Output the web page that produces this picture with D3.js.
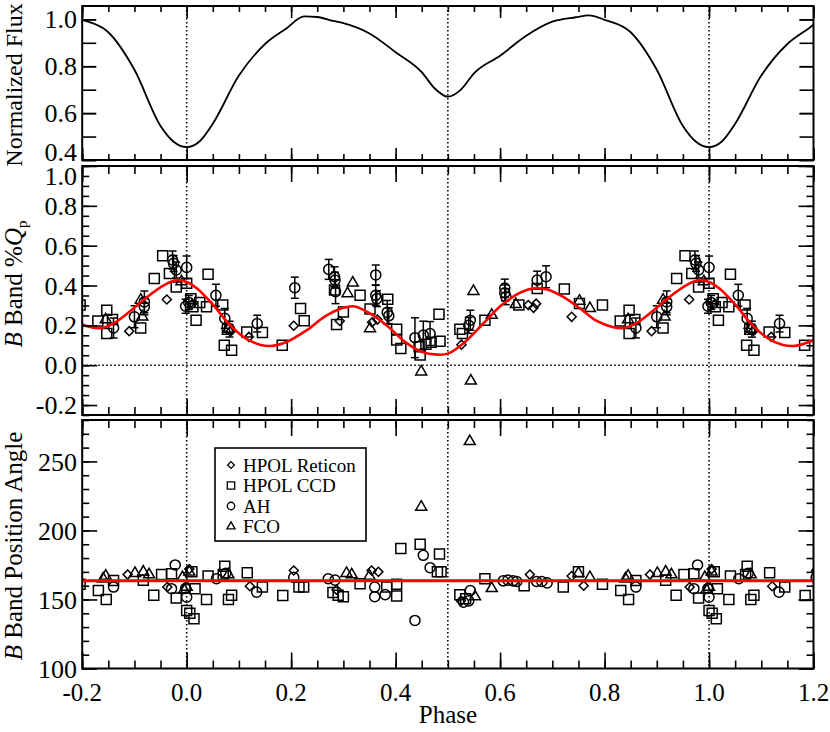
<!DOCTYPE html>
<html lang="en">
<head>
<meta charset="UTF-8">
<title>B band polarization vs phase</title>
<script src="https://cdnjs.cloudflare.com/ajax/libs/d3/7.8.5/d3.min.js"></script>
<style>
  body { margin: 0; background: #fff; }
  svg { display: block; font-family: "Liberation Serif", "Times New Roman", serif; }
</style>
</head>
<body>
<svg id="chart"></svg>
<script>
// ---- data (one period, phase 0..1; the plot repeats it from -0.2 to 1.2) ----
var fluxPhase = [0, 0.025, 0.05, 0.10, 0.15, 0.19, 0.225, 0.25, 0.28, 0.30, 0.35, 0.40, 0.45, 0.475, 0.50,
  0.525, 0.55, 0.60, 0.65, 0.70, 0.745, 0.77, 0.80, 0.85, 0.90, 0.95, 0.975]
var fluxValue = [0.455, 0.48, 0.555, 0.76, 0.895, 0.96, 1.013, 1.01, 0.994, 0.984, 0.94, 0.86, 0.775, 0.705, 0.67,
  0.70, 0.77, 0.845, 0.93, 0.99, 1.009, 1.017, 0.998, 0.945, 0.785, 0.545, 0.478]

var qFitPhase = [0, 0.02, 0.05, 0.08, 0.11, 0.14, 0.165, 0.19, 0.23, 0.265, 0.30, 0.322, 0.354, 0.386,
  0.418, 0.45, 0.48, 0.50, 0.533, 0.571, 0.603, 0.64, 0.667, 0.69, 0.72, 0.753, 0.785, 0.815, 0.836,
  0.862, 0.894, 0.925, 0.957, 0.98]
var qFitValue = [0.418, 0.385, 0.305, 0.21, 0.14, 0.103, 0.097, 0.115, 0.176, 0.245, 0.288, 0.295, 0.255, 0.193,
  0.117, 0.067, 0.053, 0.058, 0.117, 0.218, 0.302, 0.366, 0.386, 0.38, 0.344, 0.285, 0.222, 0.192, 0.187,
  0.213, 0.276, 0.344, 0.402, 0.427]

var paFit = 163.5

// [phase, %Q]
var reticonQ = [[0.01, 0.306], [0.085, 0.172], [0.119, 0.142], [0.205, 0.198], [0.293, 0.222], [0.355, 0.215],
  [0.365, 0.229], [0.526, 0.103], [0.654, 0.302], [0.664, 0.288], [0.669, 0.309], [0.737, 0.243], [0.89, 0.171],
  [0.962, 0.33]]
var ccdQ = [[0.0, 0.411], [0.008, 0.334], [0.012, 0.293], [0.018, 0.226], [0.025, 0.315], [0.038, 0.293],
  [0.041, 0.456], [0.069, 0.302], [0.072, 0.1], [0.078, 0.181], [0.086, 0.075], [0.115, 0.167], [0.145, 0.164],
  [0.183, 0.1], [0.218, 0.285], [0.225, 0.223], [0.283, 0.377], [0.287, 0.204], [0.3, 0.267], [0.332, 0.351],
  [0.351, 0.282], [0.385, 0.331], [0.402, 0.18], [0.402, 0.126], [0.41, 0.084], [0.445, 0.092], [0.447, 0.051],
  [0.458, 0.105], [0.468, 0.115], [0.485, 0.12], [0.483, 0.256], [0.523, 0.18], [0.528, 0.159], [0.571, 0.226],
  [0.636, 0.302], [0.671, 0.385], [0.723, 0.382], [0.752, 0.31], [0.796, 0.302], [0.83, 0.222], [0.847, 0.276],
  [0.847, 0.159], [0.858, 0.229], [0.912, 0.187], [0.938, 0.435], [0.954, 0.549], [0.967, 0.46], [0.98, 0.393]]
// [phase, %Q, error]
var ahQ = [[0.0, 0.491, 0.057], [0.004, 0.315, 0.035], [0.056, 0.351, 0.055], [0.073, 0.235, 0.05],
  [0.082, 0.181, 0.04], [0.135, 0.209, 0.042], [0.207, 0.389, 0.053], [0.272, 0.481, 0.05], [0.283, 0.444, 0.05],
  [0.284, 0.427, 0.04], [0.285, 0.369, 0.06], [0.362, 0.453, 0.05], [0.362, 0.351, 0.05], [0.364, 0.334, 0.04],
  [0.384, 0.265, 0.06], [0.387, 0.248, 0.04], [0.437, 0.138, 0.1], [0.453, 0.151, 0.07], [0.466, 0.159, 0.06],
  [0.543, 0.226, 0.05], [0.54, 0.2, 0.04], [0.609, 0.387, 0.045], [0.609, 0.363, 0.04], [0.611, 0.344, 0.04],
  [0.671, 0.427, 0.045], [0.688, 0.444, 0.055], [0.86, 0.187, 0.05], [0.9, 0.243, 0.055], [0.919, 0.318, 0.055],
  [0.919, 0.293, 0.04], [0.973, 0.528, 0.045], [0.975, 0.511, 0.04], [0.98, 0.478, 0.04], [0.998, 0.296, 0.035]]
var fcoQ = [[0.08, 0.181], [0.308, 0.36], [0.318, 0.413], [0.351, 0.184], [0.449, -0.033], [0.544, -0.079],
  [0.549, 0.371], [0.584, 0.251], [0.63, 0.305], [0.752, 0.322], [0.772, 0.285], [0.845, 0.229], [0.915, 0.243],
  [0.912, 0.327], [0.99, 0.42]]

// [phase, position angle]
var reticonPA = [[0.005, 172], [0.121, 159.6], [0.205, 171], [0.287, 157], [0.354, 171], [0.367, 170],
  [0.525, 149], [0.657, 168], [0.737, 167], [0.76, 160], [0.887, 168], [0.963, 159]]
var ccdPA = [[0.0, 142], [0.006, 140], [0.014, 136], [0.016, 157.7], [0.01, 170], [0.038, 150], [0.041, 167],
  [0.073, 174], [0.07, 168], [0.08, 150], [0.086, 153], [0.116, 169.4], [0.145, 159], [0.184, 152.9],
  [0.215, 159], [0.224, 159], [0.28, 155], [0.29, 153], [0.3, 152], [0.332, 161.4], [0.383, 159], [0.402, 161],
  [0.402, 152.5], [0.41, 187], [0.447, 190], [0.484, 183], [0.48, 170], [0.487, 170], [0.523, 153.4],
  [0.534, 150.5], [0.571, 165], [0.646, 160], [0.721, 159], [0.75, 170], [0.796, 161], [0.831, 156.5],
  [0.846, 150], [0.86, 163.7], [0.917, 164], [0.937, 153], [0.952, 168], [0.971, 168.6], [0.98, 151]]
var ahPA = [[0.0, 151.7], [0.057, 165], [0.075, 169], [0.134, 155.3], [0.205, 166], [0.271, 165], [0.284, 164],
  [0.36, 159], [0.36, 152], [0.38, 153.5], [0.437, 134.8], [0.453, 182], [0.466, 173], [0.543, 156.5],
  [0.53, 148], [0.54, 149], [0.606, 163.5], [0.615, 164], [0.625, 163.5], [0.632, 163], [0.67, 163],
  [0.68, 163], [0.69, 162], [0.86, 159], [0.971, 157.8], [0.978, 175], [0.998, 158]]
var fcoPA = [[0.0, 159], [0.005, 170], [0.08, 168], [0.306, 169], [0.316, 168], [0.35, 167], [0.449, 217],
  [0.542, 264.5], [0.552, 152], [0.584, 158], [0.75, 169], [0.772, 166], [0.84, 165], [0.845, 167],
  [0.901, 169], [0.917, 170], [0.928, 168], [0.992, 166], [0.995, 157]]

var phaseTicks = [-0.2, 0.0, 0.2, 0.4, 0.6, 0.8, 1.0, 1.2]
var fluxTicks = [0.4, 0.6, 0.8, 1.0]
var qTicks = [-0.2, 0.0, 0.2, 0.4, 0.6, 0.8, 1.0]
var paTicks = [100, 150, 200, 250]
var legendNames = ["HPOL Reticon", "HPOL CCD", "AH", "FCO"]

// ---- drawing ----
var W = 830, H = 732
var svg = d3.select("#chart").attr("width", W).attr("height", H)
var x = d3.scaleLinear().domain([-0.2, 1.2]).range([82.2, 813.5])
var x0 = x.range()[0], x1 = x.range()[1]

// repeat one period of data so it covers the whole phase axis
function wrap(rows) {
  var out = []
  rows.forEach(function(r) {
    [-1, 0, 1].forEach(function(k) {
      var p = r[0] + k
      if (p >= -0.26 && p <= 1.26) out.push([p].concat(r.slice(1)))
    })
  })
  return out.sort(function(a, b) { return a[0] - b[0] })
}
function zipRows(ph, v) { return ph.map(function(p, i) { return [p, v[i]] }) }

var diamond = { draw: function(ctx, size) {
  var r = Math.sqrt(size) / 2
  ctx.moveTo(0, -r); ctx.lineTo(r, 0); ctx.lineTo(0, r); ctx.lineTo(-r, 0); ctx.closePath()
} }
var shapes = [diamond, d3.symbolSquare, d3.symbolCircle, d3.symbolTriangle]
var sizes = [82, 100, 80, 52]

function panel(p) {
  var y = d3.scaleLinear().domain(p.domain).range([p.bottom, p.top])
  var g = svg.append("g")
  svg.append("clipPath").attr("id", "clip-" + p.name)
    .append("rect").attr("x", x0).attr("y", p.top).attr("width", x1 - x0).attr("height", p.bottom - p.top)
  var plot = g.append("g").attr("clip-path", "url(#clip-" + p.name + ")")

  // dotted guides
  plot.selectAll("line.vguide").data([0, 0.5, 1.0]).enter().append("line")
    .attr("x1", function(d) { return x(d) }).attr("x2", function(d) { return x(d) })
    .attr("y1", p.top).attr("y2", p.bottom)
    .attr("stroke", "#000").attr("stroke-width", 1.6).attr("stroke-dasharray", "1.6 2.4")
  if (p.zeroLine) {
    plot.append("line").attr("x1", x0).attr("x2", x1).attr("y1", y(0)).attr("y2", y(0))
      .attr("stroke", "#000").attr("stroke-width", 1.6).attr("stroke-dasharray", "1.6 2.4")
  }

  function tickSet(values, xLen, yLen) {
    var sets = [
      [d3.axisLeft(y), "translate(" + x0 + ",0)", yLen, values.y],
      [d3.axisRight(y), "translate(" + x1 + ",0)", yLen, values.y],
      [d3.axisBottom(x), "translate(0," + p.bottom + ")", xLen, values.x],
      [d3.axisTop(x), "translate(0," + p.top + ")", xLen, values.x]
    ]
    sets.forEach(function(s) {
      g.append("g").attr("transform", s[1])
        .call(s[0].tickValues(s[3]).tickSize(-s[2]).tickFormat(""))
        .call(function(a) { a.select(".domain").remove() })
        .selectAll("line").attr("stroke", "#000").attr("stroke-width", 1.6)
    })
  }
  tickSet({ x: d3.range(-0.2, 1.2001, 0.05), y: p.minor }, p.xMinorLen, p.yMinorLen)
  tickSet({ x: phaseTicks, y: p.major }, p.xMajorLen, p.yMajorLen)

  g.append("rect").attr("x", x0).attr("y", p.top).attr("width", x1 - x0).attr("height", p.bottom - p.top)
    .attr("fill", "none").attr("stroke", "#000").attr("stroke-width", 2)

  g.selectAll("text.ylab").data(p.major).enter().append("text")
    .attr("x", 77)
    .attr("y", function(d) { return Math.max(p.labelMin, Math.min(p.labelMax, y(d))) })
    .attr("dy", "0.35em").attr("text-anchor", "end").attr("font-size", 26)
    .text(p.fmt)
  return { y: y, plot: plot, g: g }
}

var fluxP = panel({ name: "flux", top: 6, bottom: 160, domain: [0.4, 1.057], major: fluxTicks,
  minor: d3.range(0.4, 1.0501, 0.1), yMajorLen: 14, yMinorLen: 14, xMajorLen: 12, xMinorLen: 6,
  labelMin: 0, labelMax: 152, fmt: function(d) { return d.toFixed(1) } })
var qP = panel({ name: "q", top: 166, bottom: 415, domain: [-0.25, 1.0], major: qTicks,
  minor: d3.range(-0.25, 1.0001, 0.05), yMajorLen: 15, yMinorLen: 7, xMajorLen: 16, xMinorLen: 8,
  labelMin: 176, labelMax: 415, zeroLine: true, fmt: function(d) { return d.toFixed(1) } })
var paP = panel({ name: "pa", top: 420, bottom: 668.5, domain: [100, 280], major: paTicks,
  minor: d3.range(100, 280.01, 10), yMajorLen: 15, yMinorLen: 7, xMajorLen: 16, xMinorLen: 8,
  labelMin: 0, labelMax: 668.5, fmt: function(d) { return d } })

// light curve
fluxP.plot.append("path")
  .datum(wrap(zipRows(fluxPhase, fluxValue)))
  .attr("fill", "none").attr("stroke", "#000").attr("stroke-width", 1.8)
  .attr("d", d3.line().curve(d3.curveMonotoneX)
    .x(function(d) { return x(d[0]) }).y(function(d) { return fluxP.y(d[1]) }))

function drawPoints(pn, rows, k) {
  pn.plot.append("g").selectAll("path").data(wrap(rows)).enter().append("path")
    .attr("transform", function(d) { return "translate(" + x(d[0]) + "," + pn.y(d[1]) + ")" })
    .attr("d", d3.symbol().type(shapes[k]).size(sizes[k]))
    .attr("fill", "none").attr("stroke", "#000").attr("stroke-width", 1.5)
}

// AH error bars
var eb = qP.plot.append("g").selectAll("g").data(wrap(ahQ)).enter().append("g")
  .attr("stroke", "#000").attr("stroke-width", 1.5)
eb.append("line")
  .attr("x1", function(d) { return x(d[0]) }).attr("x2", function(d) { return x(d[0]) })
  .attr("y1", function(d) { return qP.y(d[1] - d[2]) }).attr("y2", function(d) { return qP.y(d[1] + d[2]) })
eb.selectAll("line.cap").data(function(d) { return [[d[0], d[1] - d[2]], [d[0], d[1] + d[2]]] })
  .enter().append("line")
  .attr("x1", function(d) { return x(d[0]) - 4 }).attr("x2", function(d) { return x(d[0]) + 4 })
  .attr("y1", function(d) { return qP.y(d[1]) }).attr("y2", function(d) { return qP.y(d[1]) })

;[reticonQ, ccdQ, ahQ, fcoQ].forEach(function(rows, k) { drawPoints(qP, rows, k) })
;[reticonPA, ccdPA, ahPA, fcoPA].forEach(function(rows, k) { drawPoints(paP, rows, k) })

// fits
qP.plot.append("path")
  .datum(wrap(zipRows(qFitPhase, qFitValue)))
  .attr("fill", "none").attr("stroke", "#f00").attr("stroke-width", 2.6)
  .attr("d", d3.line().curve(d3.curveCatmullRom)
    .x(function(d) { return x(d[0]) }).y(function(d) { return qP.y(d[1]) }))
paP.plot.append("line")
  .attr("x1", x0).attr("x2", x1).attr("y1", paP.y(paFit)).attr("y2", paP.y(paFit))
  .attr("stroke", "#f00").attr("stroke-width", 3)

// x labels
svg.selectAll("text.xlab").data(phaseTicks).enter().append("text")
  .attr("x", function(d) { return x(d) }).attr("y", 701)
  .attr("text-anchor", "middle").attr("font-size", 25)
  .text(function(d) { return d.toFixed(1) })
svg.append("text").attr("x", 448).attr("y", 723).attr("text-anchor", "middle")
  .attr("font-size", 25).text("Phase")

// y titles
svg.append("text").attr("transform", "translate(22,85) rotate(-90)")
  .attr("text-anchor", "middle").attr("font-size", 24).text("Normalized Flux")
var qt = svg.append("text").attr("transform", "translate(22,284) rotate(-90)")
  .attr("text-anchor", "middle").attr("font-size", 25)
qt.append("tspan").attr("font-style", "italic").text("B")
qt.append("tspan").text(" Band %")
qt.append("tspan").attr("font-style", "italic").text("Q")
qt.append("tspan").attr("font-size", 15).attr("dy", 5).text("p")
var pt = svg.append("text").attr("transform", "translate(22,546) rotate(-90)")
  .attr("text-anchor", "middle").attr("font-size", 25)
pt.append("tspan").attr("font-style", "italic").text("B")
pt.append("tspan").text(" Band Position Angle")

// legend
var lg = svg.append("g")
lg.append("rect").attr("x", 215).attr("y", 448).attr("width", 151).attr("height", 93)
  .attr("fill", "#fff").attr("stroke", "#000").attr("stroke-width", 1.6)
var items = lg.selectAll("g.item").data(legendNames).enter().append("g")
  .attr("transform", function(d, i) { return "translate(0," + (465 + i * 20.5) + ")" })
items.append("path").attr("transform", "translate(231,0)")
  .attr("d", function(d, i) { return d3.symbol().type(shapes[i]).size(sizes[i] * 0.55)() })
  .attr("fill", "none").attr("stroke", "#000").attr("stroke-width", 1.3)
items.append("text").attr("x", 243).attr("dy", "0.35em").attr("font-size", 19)
  .text(function(d) { return d })
</script>
</body>
</html>
